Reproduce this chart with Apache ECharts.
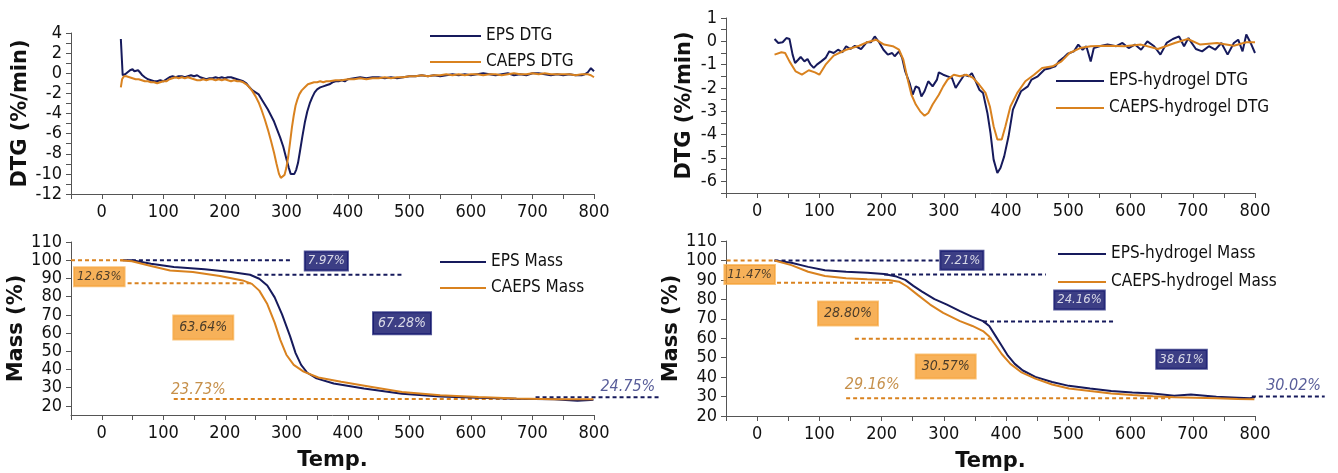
<!DOCTYPE html>
<html>
<head>
<meta charset="utf-8">
<script src="https://cdn.jsdelivr.net/npm/echarts@6/dist/echarts.min.js"></script>
<style>
  html, body { margin: 0; padding: 0; background: #ffffff; }
  #chart { width: 1338px; height: 473px; }
</style>
</head>
<body>
<div id="chart"></div>
<script>
// ---------- data ----------
const tempLabels = [0, 100, 200, 300, 400, 500, 600, 700, 800];

// EPS / CAEPS derivative thermogravimetry (%/min)
const epsDtgTemp = [31, 34, 38, 42, 46, 50, 53, 56, 59, 62, 66, 70, 75, 80, 85, 90, 95, 100, 105, 110, 115, 120, 125, 130, 135, 140, 145, 150, 155, 160, 165, 170, 175, 180, 185, 190, 195, 200, 205, 210, 215, 220, 225, 230, 235, 240, 245, 250, 255, 260, 265, 270, 275, 280, 285, 290, 295, 300, 304, 307, 310, 313, 316, 319, 322, 326, 330, 334, 338, 342, 346, 350, 355, 360, 365, 370, 375, 380, 385, 390, 395, 400, 410, 420, 430, 440, 450, 460, 470, 480, 490, 500, 510, 520, 530, 540, 550, 560, 570, 580, 590, 600, 610, 620, 630, 640, 650, 660, 670, 680, 690, 700, 710, 720, 730, 740, 750, 760, 770, 780, 785, 790, 795, 800];
const epsDtg = [3.4, -0.2, -0.1, 0.1, 0.3, 0.4, 0.2, 0.1, 0.3, 0.1, -0.2, -0.4, -0.6, -0.7, -0.8, -0.8, -0.7, -0.8, -0.6, -0.4, -0.3, -0.4, -0.3, -0.3, -0.4, -0.3, -0.2, -0.3, -0.2, -0.4, -0.5, -0.6, -0.5, -0.5, -0.4, -0.5, -0.4, -0.5, -0.4, -0.4, -0.5, -0.6, -0.7, -0.8, -1.0, -1.4, -1.7, -1.9, -2.1, -2.6, -3.1, -3.6, -4.2, -4.8, -5.6, -6.4, -7.3, -8.5, -9.4, -10.0, -10.1, -10.0, -9.6, -8.9, -7.8, -6.3, -4.9, -3.8, -3.0, -2.4, -1.9, -1.6, -1.4, -1.3, -1.2, -1.1, -0.9, -0.8, -0.8, -0.7, -0.8, -0.6, -0.5, -0.4, -0.5, -0.4, -0.4, -0.5, -0.4, -0.5, -0.4, -0.3, -0.3, -0.2, -0.3, -0.2, -0.3, -0.2, -0.1, -0.2, -0.1, -0.2, -0.1, 0.0, -0.1, -0.2, -0.1, 0.0, -0.2, -0.1, -0.2, 0.0, 0.0, -0.1, -0.2, -0.1, -0.2, -0.1, -0.2, -0.2, -0.1, 0.1, 0.5, 0.2];
const caepsDtgTemp = [31, 33, 36, 40, 45, 50, 55, 60, 65, 70, 75, 80, 85, 90, 95, 100, 105, 110, 115, 120, 125, 130, 135, 140, 145, 150, 155, 160, 165, 170, 175, 180, 185, 190, 195, 200, 205, 210, 215, 220, 225, 230, 235, 240, 245, 250, 255, 260, 265, 270, 275, 280, 284, 288, 291, 294, 297, 300, 303, 306, 309, 312, 315, 318, 321, 325, 330, 335, 340, 345, 350, 355, 360, 365, 370, 380, 390, 400, 410, 420, 430, 440, 450, 460, 470, 480, 490, 500, 510, 520, 530, 540, 550, 560, 570, 580, 590, 600, 610, 620, 630, 640, 650, 660, 670, 680, 690, 700, 710, 720, 730, 740, 750, 760, 770, 780, 790, 795, 800];
const caepsDtg = [-1.4, -0.6, -0.3, -0.3, -0.4, -0.5, -0.6, -0.6, -0.7, -0.8, -0.8, -0.9, -0.9, -1.0, -0.9, -0.8, -0.8, -0.6, -0.5, -0.4, -0.5, -0.4, -0.5, -0.4, -0.5, -0.6, -0.7, -0.7, -0.6, -0.7, -0.6, -0.6, -0.7, -0.6, -0.7, -0.6, -0.7, -0.8, -0.7, -0.8, -0.8, -0.9, -1.1, -1.4, -1.8, -2.3, -2.9, -3.7, -4.6, -5.6, -6.7, -7.9, -9.0, -10.0, -10.4, -10.4, -10.1, -9.4, -8.3, -6.9, -5.4, -4.2, -3.2, -2.6, -2.1, -1.7, -1.4, -1.1, -1.0, -0.9, -0.9, -0.8, -0.9, -0.8, -0.8, -0.7, -0.7, -0.6, -0.6, -0.5, -0.6, -0.5, -0.5, -0.4, -0.5, -0.4, -0.4, -0.3, -0.3, -0.2, -0.3, -0.2, -0.2, -0.1, -0.2, -0.1, -0.2, -0.1, -0.1, -0.2, -0.1, -0.1, -0.2, -0.1, 0.0, -0.1, -0.1, 0.0, -0.1, 0.0, -0.1, -0.1, -0.1, -0.1, -0.2, -0.1, -0.1, -0.2, -0.4];

// EPS / CAEPS mass (%)
const epsMassTemp = [35, 49, 80, 117, 167, 210, 241, 256, 269, 281, 293, 306, 315, 324, 334, 349, 377, 426, 488, 550, 612, 674, 735, 773, 794, 799];
const epsMass = [100.0, 100.0, 98.1, 96.3, 95.0, 93.5, 92.0, 89.8, 86.1, 79.6, 70.3, 58.3, 49.0, 42.5, 38.2, 35.1, 32.3, 29.5, 26.7, 25.2, 24.5, 23.9, 23.7, 22.8, 23.2, 23.4];
const caepsMassTemp = [30, 49, 80, 111, 148, 192, 229, 244, 256, 269, 281, 290, 300, 312, 328, 352, 389, 439, 488, 550, 612, 674, 735, 794, 799];
const caepsMass = [100.0, 99.4, 96.8, 94.4, 93.5, 91.3, 88.9, 87.0, 83.3, 75.9, 65.7, 56.4, 48.1, 42.5, 38.8, 35.6, 33.2, 30.4, 27.6, 25.8, 24.9, 24.1, 23.7, 23.6, 23.6];

// EPS-hydrogel / CAEPS-hydrogel DTG (%/min)
const epsGelDtgTemp = [28, 34, 41, 47, 52, 57, 61, 66, 70, 76, 81, 86, 91, 96, 103, 110, 116, 123, 130, 137, 143, 150, 157, 167, 176, 183, 189, 196, 203, 210, 217, 221, 228, 233, 238, 245, 250, 255, 260, 264, 269, 275, 282, 289, 292, 299, 306, 313, 319, 326, 333, 340, 345, 350, 357, 363, 370, 375, 380, 386, 391, 397, 404, 411, 418, 424, 435, 441, 451, 462, 472, 479, 485, 492, 499, 509, 516, 523, 529, 536, 541, 550, 563, 577, 587, 597, 607, 617, 627, 638, 648, 658, 668, 678, 686, 693, 705, 715, 726, 736, 746, 756, 766, 773, 780, 786, 793, 800];
const epsGelDtg = [0.1, -0.07, -0.04, 0.14, 0.1, -0.57, -0.93, -0.79, -0.67, -0.86, -0.76, -1.0, -1.14, -1.0, -0.86, -0.71, -0.43, -0.5, -0.36, -0.47, -0.21, -0.33, -0.19, -0.33, -0.04, -0.04, 0.21, -0.04, -0.36, -0.57, -0.5, -0.64, -0.43, -0.71, -1.29, -1.79, -2.29, -1.93, -2.0, -2.36, -2.14, -1.71, -1.93, -1.64, -1.33, -1.43, -1.5, -1.57, -2.0, -1.71, -1.43, -1.5, -1.36, -1.64, -2.07, -2.21, -3.07, -3.93, -5.07, -5.64, -5.43, -4.93, -4.07, -2.93, -2.5, -2.14, -1.93, -1.64, -1.5, -1.21, -1.14, -1.07, -0.86, -0.71, -0.53, -0.43, -0.14, -0.36, -0.21, -0.86, -0.29, -0.21, -0.14, -0.21, -0.07, -0.29, -0.14, -0.36, 0.0, -0.21, -0.57, -0.07, 0.1, 0.21, -0.21, 0.14, -0.33, -0.43, -0.21, -0.36, -0.07, -0.57, -0.07, 0.07, -0.43, 0.29, -0.07, -0.5];
const caepsGelDtgTemp = [28, 39, 45, 52, 62, 72, 83, 93, 100, 110, 123, 143, 164, 177, 191, 204, 218, 228, 235, 242, 248, 255, 262, 269, 275, 282, 292, 299, 306, 316, 326, 336, 347, 357, 367, 374, 380, 386, 393, 399, 407, 418, 431, 445, 458, 475, 489, 502, 519, 536, 563, 590, 617, 644, 671, 692, 712, 739, 766, 786, 800];
const caepsGelDtg = [-0.57, -0.47, -0.5, -0.86, -1.29, -1.43, -1.24, -1.33, -1.43, -1.0, -0.61, -0.36, -0.19, -0.04, 0.07, -0.14, -0.21, -0.36, -0.79, -1.64, -2.29, -2.71, -3.0, -3.19, -3.07, -2.71, -2.29, -1.93, -1.64, -1.43, -1.5, -1.43, -1.57, -1.86, -2.21, -2.79, -3.64, -4.21, -4.21, -3.64, -2.79, -2.21, -1.71, -1.43, -1.14, -1.07, -0.86, -0.5, -0.29, -0.21, -0.19, -0.21, -0.14, -0.33, -0.07, 0.1, -0.14, -0.07, -0.19, -0.04, -0.04];

// EPS-hydrogel / CAEPS-hydrogel mass (%)
const epsGelMassTemp = [28, 55, 82, 109, 143, 177, 204, 224, 238, 251, 265, 285, 305, 326, 346, 363, 373, 383, 393, 403, 414, 427, 447, 474, 501, 535, 569, 603, 636, 670, 697, 738, 772, 792, 800];
const epsGelMass = [100.0, 98.8, 96.7, 95.0, 94.2, 93.7, 93.0, 91.7, 90.0, 86.9, 84.0, 80.1, 77.3, 73.9, 71.0, 68.8, 66.3, 61.2, 56.1, 51.0, 46.8, 43.4, 40.1, 37.5, 35.5, 34.1, 32.8, 32.1, 31.6, 30.4, 31.1, 29.9, 29.4, 29.1, 29.7];
const caepsGelMassTemp = [28, 55, 82, 109, 143, 177, 211, 228, 241, 258, 278, 299, 326, 346, 363, 373, 383, 393, 407, 424, 447, 474, 501, 535, 569, 603, 636, 670, 704, 738, 772, 799];
const caepsGelMass = [100.0, 97.6, 94.2, 92.0, 90.8, 90.3, 90.0, 89.1, 86.6, 82.3, 77.3, 73.0, 68.8, 66.3, 63.7, 60.9, 56.5, 51.9, 46.8, 42.6, 39.2, 36.2, 34.1, 32.8, 31.6, 30.8, 30.2, 29.7, 29.4, 29.1, 28.7, 28.6];

// Mass loss of each decomposition stage (%)
const epsLoss = [7.97, 67.28];
const caepsLoss = [12.63, 63.64];
const epsGelLoss = [7.21, 24.16, 38.61];
const caepsGelLoss = [11.47, 28.80, 30.57];

// ---------- helpers ----------
const NAVY = '#161a5c';
const ORANGE = '#d9821f';
const BOX_ORANGE = '#f59e30';
const BOX_NAVY = '#0b0e66';
const TICK_FONT = 'DejaVu Sans Condensed';
const NOTE_FONT = 'DejaVu Sans Condensed';

const zip = (xs, ys) => xs.map((x, i) => [x, ys[i]]);
// remaining mass after each stage, starting from 100 %
const levels = losses => {
  const out = [100];
  losses.forEach(l => out.push(+(out[out.length - 1] - l).toFixed(2)));
  return out;
};
const pct = v => v.toFixed(2) + '%';

const epsLv = levels(epsLoss);
const caepsLv = levels(caepsLoss);
const epsGelLv = levels(epsGelLoss);
const caepsGelLv = levels(caepsGelLoss);

const range = (a, b, s) => { const r = []; for (let v = a; v <= b + 1e-9; v += s) r.push(+v.toFixed(2)); return r; };

function tempAxis(gi, named) {
  return {
    type: 'value', gridIndex: gi, min: -50, max: 800,
    axisLine: { show: true, onZero: false, lineStyle: { color: '#555', width: 1 } },
    axisTick: { show: true, length: 5, customValues: range(-50, 800, 50), lineStyle: { color: '#555' } },
    axisLabel: { customValues: tempLabels, fontFamily: TICK_FONT, fontSize: 18, color: '#111', margin: 9 },
    splitLine: { show: false },
    name: named ? 'Temp.' : '', nameLocation: 'middle', nameGap: 35,
    nameTextStyle: { fontFamily: 'DejaVu Sans', fontWeight: 'bold', fontSize: 21, color: '#111' }
  };
}
function valueAxis(gi, min, max, labels, ticks, name, gap) {
  return {
    type: 'value', gridIndex: gi, min, max,
    axisLine: { show: true, onZero: false, lineStyle: { color: '#555', width: 1 } },
    axisTick: { show: true, length: 5, customValues: ticks, lineStyle: { color: '#555' } },
    axisLabel: { customValues: labels, fontFamily: TICK_FONT, fontSize: 18, color: '#111', margin: 9 },
    splitLine: { show: false },
    name, nameLocation: 'middle', nameGap: gap, nameRotate: 90,
    nameTextStyle: { fontFamily: 'DejaVu Sans', fontWeight: 'bold', fontSize: 21, color: '#111' }
  };
}
function curve(name, gi, data, color) {
  return {
    type: 'line', name, xAxisIndex: gi, yAxisIndex: gi, data,
    symbol: 'none', lineStyle: { color, width: 2 }, itemStyle: { color },
    z: 3, silent: true
  };
}
// dashed level lines: each item is [fromTemp, toTemp, level, colour]
function guides(gi, items) {
  return {
    type: 'custom', xAxisIndex: gi, yAxisIndex: gi, clip: false, silent: true, z: 2,
    encode: { x: [0, 1], y: 2 },
    data: items.map(it => it.slice(0, 3)),
    renderItem(params, api) {
      const a = api.coord([api.value(0), api.value(2)]);
      const b = api.coord([api.value(1), api.value(2)]);
      return {
        type: 'line',
        shape: { x1: a[0], y1: a[1], x2: b[0], y2: b[1] },
        style: { stroke: items[params.dataIndex][3], lineWidth: 2, lineDash: [4, 3] }
      };
    }
  };
}
const boxStyles = {
  orange: { backgroundColor: BOX_ORANGE, borderColor: '#f7b55e', borderWidth: 1, color: '#1e1e1e', padding: [3, 3] },
  orangeBig: { backgroundColor: BOX_ORANGE, borderColor: '#f7b55e', borderWidth: 1, color: '#1e1e1e', padding: [5, 6], fontSize: 14 },
  navy: { backgroundColor: BOX_NAVY, borderColor: '#2a2f80', borderWidth: 1, color: '#ffffff', padding: [3, 3] },
  navyBig: { backgroundColor: BOX_NAVY, borderColor: '#2a2f80', borderWidth: 1, color: '#ffffff', padding: [4, 5], fontSize: 14 },
  orangeText: { color: '#b8741e', fontSize: 16, padding: 0 },
  navyText: { color: '#2e3580', fontSize: 16, padding: 0 }
};
function notes(gi, items) {
  return {
    type: 'scatter', xAxisIndex: gi, yAxisIndex: gi, clip: false, silent: true, z: 5,
    symbolSize: 0,
    data: items.map(it => ({
      value: [it.x, it.y],
      label: Object.assign({
        show: true, position: 'inside', formatter: it.text,
        fontFamily: NOTE_FONT, fontStyle: 'italic', fontSize: 13
      }, boxStyles[it.style])
    }))
  };
}

// ---------- option ----------
const option = {
  animation: false,
  backgroundColor: '#ffffff',
  grid: [
    { left: 71, top: 33, width: 523, height: 161 },
    { left: 71, top: 242, width: 523, height: 173 },
    { left: 726, top: 18, width: 529, height: 175 },
    { left: 726, top: 241, width: 529, height: 177 }
  ],
  xAxis: [tempAxis(0, false), tempAxis(1, true), tempAxis(2, false), tempAxis(3, true)],
  yAxis: [
    valueAxis(0, -12, 4, range(-12, 4, 2), range(-12, 4, 1), 'DTG (%/min)', 40),
    valueAxis(1, 15, 110, range(20, 110, 10), range(20, 110, 10), 'Mass (%)', 40),
    valueAxis(2, -6.5, 1, range(-6, 1, 1), range(-6.5, 1, 0.5), 'DTG (%/min)', 31),
    valueAxis(3, 20, 110, range(20, 110, 10), range(20, 110, 10), 'Mass (%)', 39)
  ],
  legend: [
    { left: 425, top: 21, itemWidth: 51, itemGap: 6, data: ['EPS DTG', 'CAEPS DTG'] },
    { left: 435, top: 247, itemWidth: 46, itemGap: 6, data: ['EPS Mass', 'CAEPS Mass'] },
    { left: 1051, top: 66, itemWidth: 48, itemGap: 7, data: ['EPS-hydrogel DTG', 'CAEPS-hydrogel DTG'] },
    { left: 1053, top: 239, itemWidth: 48, itemGap: 8, data: ['EPS-hydrogel Mass', 'CAEPS-hydrogel Mass'] }
  ].map(l => Object.assign(l, {
    orient: 'vertical', selectedMode: false, icon: 'rect', itemHeight: 2,
    textStyle: { fontFamily: TICK_FONT, fontSize: 17, color: '#111', lineHeight: 20 }
  })),
  series: [
    curve('EPS DTG', 0, zip(epsDtgTemp, epsDtg), NAVY),
    curve('CAEPS DTG', 0, zip(caepsDtgTemp, caepsDtg), ORANGE),

    guides(1, [
      [-50, 43, caepsLv[0], ORANGE],
      [49, 309, epsLv[0], NAVY],
      [253, 491, epsLv[1], NAVY],
      [42, 244, caepsLv[1], ORANGE],
      [117, 705, caepsLv[2], ORANGE],
      [705, 905, epsLv[2], NAVY]
    ]),
    curve('EPS Mass', 1, zip(epsMassTemp, epsMass), NAVY),
    curve('CAEPS Mass', 1, zip(caepsMassTemp, caepsMass), ORANGE),
    notes(1, [
      { x: -4, y: 90.9, text: pct(caepsLoss[0]), style: 'orange' },
      { x: 365, y: 99.5, text: pct(epsLoss[0]), style: 'navy' },
      { x: 165, y: 63.1, text: pct(caepsLoss[1]), style: 'orangeBig' },
      { x: 488, y: 65.4, text: pct(epsLoss[1]), style: 'navyBig' },
      { x: 157, y: 28.8, text: pct(caepsLv[2]), style: 'orangeText' },
      { x: 855, y: 30.4, text: pct(epsLv[2]), style: 'navyText' }
    ]),

    curve('EPS-hydrogel DTG', 2, zip(epsGelDtgTemp, epsGelDtg), NAVY),
    curve('CAEPS-hydrogel DTG', 2, zip(caepsGelDtgTemp, caepsGelDtg), ORANGE),

    guides(3, [
      [-49, 28, caepsGelLv[0], ORANGE],
      [28, 292, epsGelLv[0], NAVY],
      [204, 464, epsGelLv[1], NAVY],
      [32, 218, caepsGelLv[1], ORANGE],
      [363, 574, epsGelLv[2], NAVY],
      [157, 380, caepsGelLv[2], ORANGE],
      [143, 664, caepsGelLv[3], ORANGE],
      [795, 912, epsGelLv[3], NAVY]
    ]),
    curve('EPS-hydrogel Mass', 3, zip(epsGelMassTemp, epsGelMass), NAVY),
    curve('CAEPS-hydrogel Mass', 3, zip(caepsGelMassTemp, caepsGelMass), ORANGE),
    notes(3, [
      { x: -12, y: 92.8, text: pct(caepsGelLoss[0]), style: 'orange' },
      { x: 329, y: 100.1, text: pct(epsGelLoss[0]), style: 'navy' },
      { x: 146, y: 72.7, text: pct(caepsGelLoss[1]), style: 'orangeBig' },
      { x: 518, y: 79.6, text: pct(epsGelLoss[1]), style: 'navy' },
      { x: 303, y: 45.5, text: pct(caepsGelLoss[2]), style: 'orangeBig' },
      { x: 682, y: 49.2, text: pct(epsGelLoss[2]), style: 'navy' },
      { x: 185, y: 35.8, text: pct(caepsGelLv[3]), style: 'orangeText' },
      { x: 862, y: 35.5, text: pct(epsGelLv[3]), style: 'navyText' }
    ])
  ]
};

const chart = echarts.init(document.getElementById('chart'), null, { renderer: 'canvas' });
chart.setOption(option);
</script>
</body>
</html>
